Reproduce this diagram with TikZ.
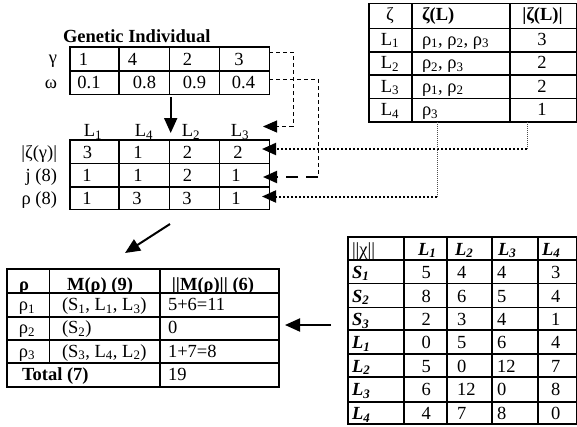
\documentclass[tikz,border=0pt]{standalone}
\usepackage{fontspec}
\setmainfont{Liberation Serif}
\usetikzlibrary{arrows.meta}

\newcommand\lo[1]{\textsubscript{#1}}

\tikzset{
  txt/.style={inner sep=0pt, outer sep=0pt, font=\fontsize{18.5}{20}\selectfont},
  ctr/.style={txt, anchor=base},
  lft/.style={txt, anchor=base west},
  rgt/.style={txt, anchor=base east},
  bold/.style={font=\fontsize{18.5}{20}\selectfont\bfseries},
  boldit/.style={font=\fontsize{18.5}{20}\selectfont\bfseries\itshape},
  tablebox/.style={draw, line width=1.6pt, inner sep=0pt, outer sep=0pt},
  tabline/.style={line width=1.6pt},
  bigtip/.style={-{Triangle[length=15pt,width=13pt]}},
  midtip/.style={-{Triangle[length=14pt,width=12pt]}},
  mainarrow/.style={bigtip, line width=2pt},
  dashthin/.style={line width=1pt, dash pattern=on 4pt off 3pt},
  dashthick/.style={midtip, line width=2pt, dash pattern=on 12pt off 8pt},
  dotthin/.style={line width=0.7pt, black!70, dash pattern=on 1pt off 1pt},
  dotthick/.style={midtip, line width=2pt, dash pattern=on 2pt off 2pt},
}

\begin{document}
\begin{tikzpicture}[x=1pt, y=-1pt]
\useasboundingbox (0,0) rectangle (577,426);

% ---------- genetic individual ----------
\node[lft, bold] (gtitle) at (63,42.7) {Genetic Individual};
\node[tablebox, minimum width=199.3pt, minimum height=47.6pt] (gen) at (169.65,70.5) {};
\draw[tabline] (gen.west |- 0,71) -- (gen.east |- 0,71);
\foreach \cx in {119,169.3,219.3} \draw[tabline] (\cx,46.7) -- (\cx,94.3);

\node[rgt] (lgam) at (57,63.5) {γ};
\node[rgt] (lom) at (57,88.5) {ω};
\node[ctr] (g11) at (83.5,65.5) {1};
\node[ctr] (g12) at (132.5,65.5) {4};
\node[ctr] (g13) at (187.5,65.5) {2};
\node[ctr] (g14) at (239,65.5) {3};
\node[ctr] (g21) at (89,88.5) {0.1};
\node[ctr] (g22) at (144.5,88.5) {0.8};
\node[ctr] (g23) at (194.5,88.5) {0.9};
\node[ctr] (g24) at (243.5,88.5) {0.4};

% ---------- locations table ----------
\node[tablebox, minimum width=199.3pt, minimum height=69.3pt] (loc) at (169.65,174.65) {};
\draw[tabline] (loc.west |- 0,163.3) -- (loc.east |- 0,163.3);
\draw[tabline] (loc.west |- 0,186.7) -- (loc.east |- 0,186.7);
\foreach \cx in {119,169.3,219.3} \draw[tabline] (\cx,140) -- (\cx,209.3);

\node[ctr] (h1) at (93,136.5) {L\lo{1}};
\node[ctr] (h2) at (144,136.5) {L\lo{4}};
\node[ctr] (h3) at (191,136.5) {L\lo{2}};
\node[ctr] (h4) at (240,136.5) {L\lo{3}};

\node[rgt] (lz) at (57,158) {|ζ(γ)|};
\node[rgt] (lj) at (57,181.5) {j (8)};
\node[rgt] (lr) at (57,204.5) {ρ (8)};

\node[ctr] (l11) at (87.5,158) {3};
\node[ctr] (l12) at (138,158) {1};
\node[ctr] (l13) at (187.5,158) {2};
\node[ctr] (l14) at (238,158) {2};
\node[ctr] (l21) at (87,181.5) {1};
\node[ctr] (l22) at (138,181.5) {1};
\node[ctr] (l23) at (187.5,181.5) {2};
\node[ctr] (l24) at (236,181.5) {1};
\node[ctr] (l31) at (87,204.5) {1};
\node[ctr] (l32) at (137,204.5) {3};
\node[ctr] (l33) at (187,204.5) {3};
\node[ctr] (l34) at (236,204.5) {1};

% ---------- zeta table ----------
\node[tablebox, minimum width=208pt, minimum height=118.7pt] (zeta) at (473,62.65) {};
\foreach \ry in {28.3,51.7,75,98.3} \draw[tabline] (369,\ry) -- (577,\ry);
\foreach \cx in {412,510} \draw[tabline] (\cx,3.3) -- (\cx,122);

\node[ctr] (zh1) at (390,20.5) {ζ};
\node[lft, bold] (zh2) at (422,20.5) {ζ(L)};
\node[ctr, bold] (zh3) at (542.5,20.5) {|ζ(L)|};
\node[ctr] (z11) at (390,45) {L\lo{1}};
\node[lft] (z12) at (422,45) {ρ\lo{1}, ρ\lo{2}, ρ\lo{3}};
\node[ctr] (z13) at (542,45) {3};
\node[ctr] (z21) at (390,68.5) {L\lo{2}};
\node[lft] (z22) at (422,68.5) {ρ\lo{2}, ρ\lo{3}};
\node[ctr] (z23) at (542,68.5) {2};
\node[ctr] (z31) at (390,92) {L\lo{3}};
\node[lft] (z32) at (422,92) {ρ\lo{1}, ρ\lo{2}};
\node[ctr] (z33) at (542,92) {2};
\node[ctr] (z41) at (390,115.5) {L\lo{4}};
\node[lft] (z42) at (422,115.5) {ρ\lo{3}};
\node[ctr] (z43) at (542,115.5) {1};

% ---------- M(rho) table ----------
\node[tablebox, minimum width=272pt, minimum height=118pt] (mt) at (143,328) {};
\foreach \ry in {293,317,340,363} \draw[tabline] (7,\ry) -- (279,\ry);
\draw[tabline] (49.3,269) -- (49.3,363);
\draw[tabline] (160,269) -- (160,387);

\node[ctr, bold] (mh1) at (24,290) {ρ};
\node[ctr, bold] (mh2) at (100,290) {M(ρ) (9)};
\node[ctr, bold] (mh3) at (213,290) {||M(ρ)|| (6)};
\node[ctr] (m11) at (27,310.5) {ρ\lo{1}};
\node[lft] (m12) at (62,310.5) {(S\lo{1}, L\lo{1}, L\lo{3})};
\node[lft] (m13) at (168,310.5) {5+6=11};
\node[ctr] (m21) at (27,333.5) {ρ\lo{2}};
\node[lft] (m22) at (62,333.5) {(S\lo{2})};
\node[lft] (m23) at (168,333.5) {0};
\node[ctr] (m31) at (27,357) {ρ\lo{3}};
\node[lft] (m32) at (62,357) {(S\lo{3}, L\lo{4}, L\lo{2})};
\node[lft] (m33) at (168,357) {1+7=8};
\node[lft, bold] (mtot) at (22,380) {Total (7)};
\node[lft] (mval) at (168,380) {19};

% ---------- chi table ----------
\node[tablebox, minimum width=229pt, minimum height=187.3pt] (chi) at (462.5,330.35) {};
\foreach \ry in {260,283.3,307.3,330,354,376.7,401.7} \draw[tabline] (348,\ry) -- (577,\ry);
\foreach \cx in {404,447,492,538} \draw[tabline] (\cx,236.7) -- (\cx,424);

\node[lft] (ch0) at (352,255) {||χ||};
\node[lft, boldit] (ch1) at (418,255) {L\lo{1}};
\node[lft, boldit] (ch2) at (455,255) {L\lo{2}};
\node[lft, boldit] (ch3) at (498,255) {L\lo{3}};
\node[lft, boldit] (ch4) at (542,255) {L\lo{4}};

\foreach \nm/\lab/\sb/\by/\a/\b/\c/\d in {
  r1/S/1/278/5/4/4/3, r2/S/2/302/8/6/5/4, r3/S/3/325.5/2/3/4/1,
  r4/L/1/348.5/0/5/6/4, r5/L/2/372/5/0/12/7, r6/L/3/395.5/6/12/0/8,
  r7/L/4/419.5/4/7/8/0}{
  \node[lft, boldit] (\nm h) at (352,\by) {\lab\lo{\sb}};
  \node[lft] (\nm a) at (421.5,\by) {\a};
  \node[lft] (\nm b) at (457,\by) {\b};
  \node[lft] (\nm c) at (497,\by) {\c};
  \node[lft] (\nm d) at (551,\by) {\d};
}

% ---------- connectors ----------
\coordinate (dnS) at (170.7,97);
\coordinate (dnT) at (170.7,133);
\draw[mainarrow] (dnS) -- (dnT);

\coordinate (d1s) at (269.3,52);
\coordinate (d1t) at (263,126.5);
\draw[dashthin, midtip] (d1s) -- ++(23.7,0) |- (d1t);

\coordinate (d2s) at (269.3,79);
\coordinate (d2c) at (318,177);
\coordinate (d2t) at (263,177);
\draw[dashthin] (d2s) -| (d2c);
\draw[dashthick] (d2c) -- (d2t);

\coordinate (z1s) at (527,122);
\coordinate (z1c) at (527,149);
\coordinate (z1t) at (262,149);
\draw[dotthin] (z1s) -- (z1c);
\draw[dotthick] (z1c) -- (z1t);

\coordinate (z2s) at (437,122);
\coordinate (z2c) at (437,196.5);
\coordinate (z2t) at (262,196.5);
\draw[dotthin] (z2s) -- (z2c);
\draw[dotthick] (z2c) -- (z2t);

\coordinate (dgS) at (170,224);
\coordinate (dgT) at (125,253);
\draw[mainarrow] (dgS) -- (dgT);

\coordinate (lfS) at (331,325);
\coordinate (lfT) at (285,325);
\draw[mainarrow] (lfS) -- (lfT);

\end{tikzpicture}
\end{document}
